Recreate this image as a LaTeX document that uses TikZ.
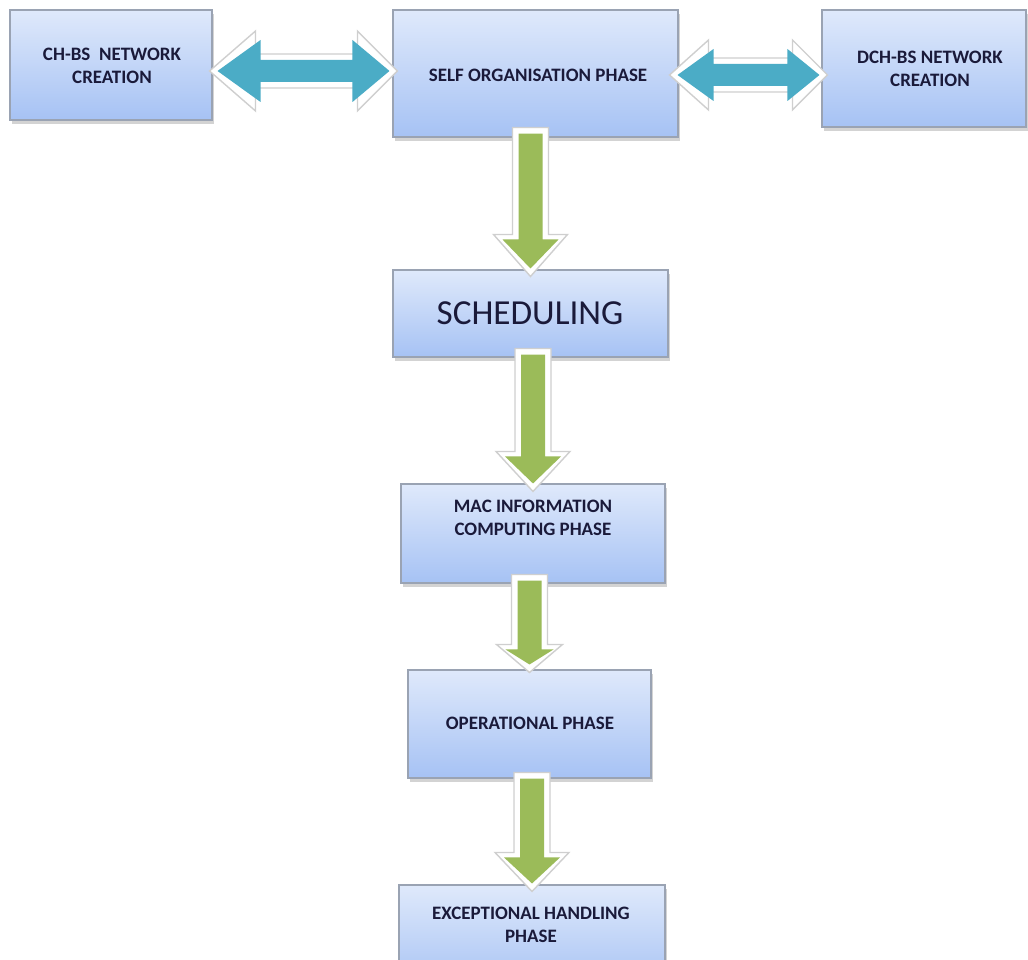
\documentclass[tikz,border=0pt]{standalone}
\usepackage{fontspec}
\setmainfont{Carlito}
\usetikzlibrary{shadows,fit,calc}
\definecolor{boxtop}{HTML}{DFE9FB}
\definecolor{boxbot}{HTML}{A6C2F4}
\definecolor{boxedge}{HTML}{9AA3B3}
\definecolor{txt}{HTML}{1A1A3A}
\definecolor{agreen}{HTML}{9BBB59}
\definecolor{ateal}{HTML}{4BACC6}
\definecolor{outl}{HTML}{CFCFCF}
\def\pxu{0.569055pt}
\tikzset{
  box/.style={draw=boxedge, line width=0.6pt, top color=boxtop, bottom color=boxbot,
    inner sep=0pt, drop shadow={shadow xshift=1.2pt, shadow yshift=-2pt, opacity=0.35}},
  lbl/.style={font=\bfseries\fontsize{10.8}{13.4}\selectfont, text=txt, align=center},
  bigl/.style={font=\fontsize{20}{24}\selectfont, text=txt},
  arrowout/.style={fill=white, draw=outl, line width=0.8pt, line join=miter},
  arrowgreen/.style={fill=agreen, draw=none},
  arrowteal/.style={fill=ateal, draw=none},
}
% down block arrow: from, to, top overlap, tip overlap, head length, head half width
\newcommand\dnarrow[6]{%
  \filldraw[arrowout] let \p1=(#1.south), \p2=(#2.north) in
    ({\x2-18*\pxu},{\y1+#3*\pxu}) -- ({\x2+18*\pxu},{\y1+#3*\pxu})
    -- ({\x2+18*\pxu},{\y2+(#5-#4)*\pxu}) -- ({\x2+#6*\pxu},{\y2+(#5-#4)*\pxu})
    -- ({\x2},{\y2-#4*\pxu})
    -- ({\x2-#6*\pxu},{\y2+(#5-#4)*\pxu}) -- ({\x2-18*\pxu},{\y2+(#5-#4)*\pxu}) -- cycle;
  \fill[arrowgreen] let \p1=(#1.south), \p2=(#2.north) in
    ({\x2-12*\pxu},{\y1+(#3-6)*\pxu}) -- ({\x2+12*\pxu},{\y1+(#3-6)*\pxu})
    -- ({\x2+12*\pxu},{\y2+(#5-#4-5)*\pxu}) -- ({\x2+(#6-9)*\pxu},{\y2+(#5-#4-5)*\pxu})
    -- ({\x2},{\y2+(8-#4)*\pxu})
    -- ({\x2-(#6-9)*\pxu},{\y2+(#5-#4-5)*\pxu}) -- ({\x2-12*\pxu},{\y2+(#5-#4-5)*\pxu}) -- cycle;
}
% horizontal double block arrow: left, right, y(px), left overlap, right overlap, left head, right head, head half
\newcommand\hdarrow[8]{%
  \filldraw[arrowout] let \p1=(#1.east), \p2=(#2.west) in
    ({\x1-#4*\pxu},{-#3*\pxu})
    -- ({\x1+(#6-#4)*\pxu},{-(#3-#8)*\pxu})
    -- ({\x1+(#6-#4)*\pxu},{-(#3-17)*\pxu})
    -- ({\x2+(#5-#7)*\pxu},{-(#3-17)*\pxu})
    -- ({\x2+(#5-#7)*\pxu},{-(#3-#8)*\pxu})
    -- ({\x2+#5*\pxu},{-#3*\pxu})
    -- ({\x2+(#5-#7)*\pxu},{-(#3+#8)*\pxu})
    -- ({\x2+(#5-#7)*\pxu},{-(#3+17)*\pxu})
    -- ({\x1+(#6-#4)*\pxu},{-(#3+17)*\pxu})
    -- ({\x1+(#6-#4)*\pxu},{-(#3+#8)*\pxu})
    -- cycle;
  \fill[arrowteal] let \p1=(#1.east), \p2=(#2.west) in
    ({\x1+(8-#4)*\pxu},{-#3*\pxu})
    -- ({\x1+(#6-#4+5)*\pxu},{-(#3-#8+9)*\pxu})
    -- ({\x1+(#6-#4+5)*\pxu},{-(#3-11)*\pxu})
    -- ({\x2+(#5-#7-5)*\pxu},{-(#3-11)*\pxu})
    -- ({\x2+(#5-#7-5)*\pxu},{-(#3-#8+9)*\pxu})
    -- ({\x2+(#5-8)*\pxu},{-#3*\pxu})
    -- ({\x2+(#5-#7-5)*\pxu},{-(#3+#8-9)*\pxu})
    -- ({\x2+(#5-#7-5)*\pxu},{-(#3+11)*\pxu})
    -- ({\x1+(#6-#4+5)*\pxu},{-(#3+11)*\pxu})
    -- ({\x1+(#6-#4+5)*\pxu},{-(#3+#8-9)*\pxu})
    -- cycle;
}
\begin{document}
\begin{tikzpicture}[x=0.02cm, y=-0.02cm]
\useasboundingbox (0,0) rectangle (1028,960);
% boxes
\node[box, fit={(10,10)(212,120)}] (chbs) {};
\node[box, fit={(393,10)(678,137)}] (self) {};
\node[box, fit={(822,10)(1026,127)}] (dch) {};
\node[box, fit={(393,270)(668,357)}] (sched) {};
\node[box, fit={(401,484)(665,583)}] (mac) {};
\node[box, fit={(408,670)(651,778)}] (oper) {};
\node[box, fit={(399,885)(665,990)}] (exc) {};
% labels
\node[lbl] (chbs-t) at (112,66) {CH-BS\ \ NETWORK\\CREATION};
\node[lbl] (self-t) at (538,75) {SELF ORGANISATION PHASE};
\node[lbl] (dch-t) at (930,69) {DCH-BS NETWORK\\CREATION};
\node[bigl] (sched-t) at (530,313) {SCHEDULING};
\node[lbl] (mac-t) at (533,518) {MAC INFORMATION\\COMPUTING PHASE};
\node[lbl] (oper-t) at (530,723) {OPERATIONAL PHASE};
\node[lbl] (exc-t) at (531,925) {EXCEPTIONAL HANDLING\\PHASE};
% arrows
\hdarrow{chbs}{self}{71}{3}{5}{46}{40}{40}
\hdarrow{self}{dch}{75}{9}{6}{39}{35}{35}
\dnarrow{self}{sched}{10}{7}{42}{37}
\dnarrow{sched}{mac}{9}{8}{40}{37}
\dnarrow{mac}{oper}{9}{3}{28}{33}
\dnarrow{oper}{exc}{6}{7}{39}{37}
\end{tikzpicture}
\end{document}
